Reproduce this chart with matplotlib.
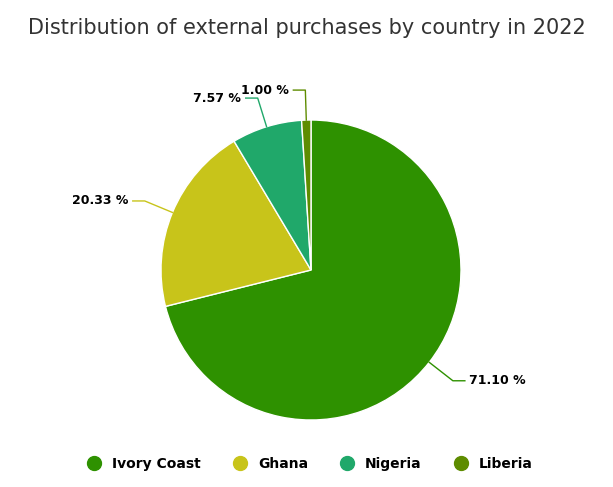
import matplotlib
matplotlib.use("Agg")
import matplotlib.pyplot as plt
import numpy as np
from matplotlib.lines import Line2D

countries = ["Ivory Coast", "Ghana", "Nigeria", "Liberia"]
shares = [71.10, 20.33, 7.57, 1.00]
colors = ["#2e9100", "#c8c41a", "#20a86a", "#5e8c00"]

W, H = 613, 487
fig = plt.figure(figsize=(W/100, H/100), dpi=100)
cx, cy, r = 311, 270, 150
ax = fig.add_axes([(cx-r)/W, (H-cy-r)/H, 2*r/W, 2*r/H])
wedges, _ = ax.pie(shares, colors=colors, startangle=90, counterclock=False,
                   wedgeprops=dict(edgecolor="white", linewidth=1))
ax.set_xlim(-1, 1); ax.set_ylim(-1, 1); ax.set_aspect("auto")

for w, s, c in zip(wedges, shares, colors):
    ang = np.deg2rad((w.theta1 + w.theta2) / 2)
    x, y = np.cos(ang), np.sin(ang)
    tx, ty = 1.2 * x, 1.2 * y
    ha = "left" if x >= 0 else "right"
    ex = tx + (0.08 if x >= 0 else -0.08)
    ax.plot([x, tx, ex], [y, ty, ty], color=c, lw=1, clip_on=False)
    ax.text(ex + (0.03 if x >= 0 else -0.03), ty, f"{s:.2f} %", ha=ha, va="center",
            fontsize=9, fontweight="bold", color="#000000")

fig.text(0.5, 1 - 28/H, "Distribution of external purchases by country in 2022",
         ha="center", va="center", fontsize=15, color="#333333")

handles = [Line2D([0], [0], marker="o", linestyle="", markersize=10,
                  markerfacecolor=c, markeredgecolor=c) for c in colors]
fig.legend(handles, countries, loc="center", bbox_to_anchor=(0.5, 1 - 464/H),
           ncol=4, frameon=False, fontsize=10, handletextpad=0.3, columnspacing=1.8,
           prop=dict(weight="bold", size=10))
fig.savefig("out.png", dpi=100)
